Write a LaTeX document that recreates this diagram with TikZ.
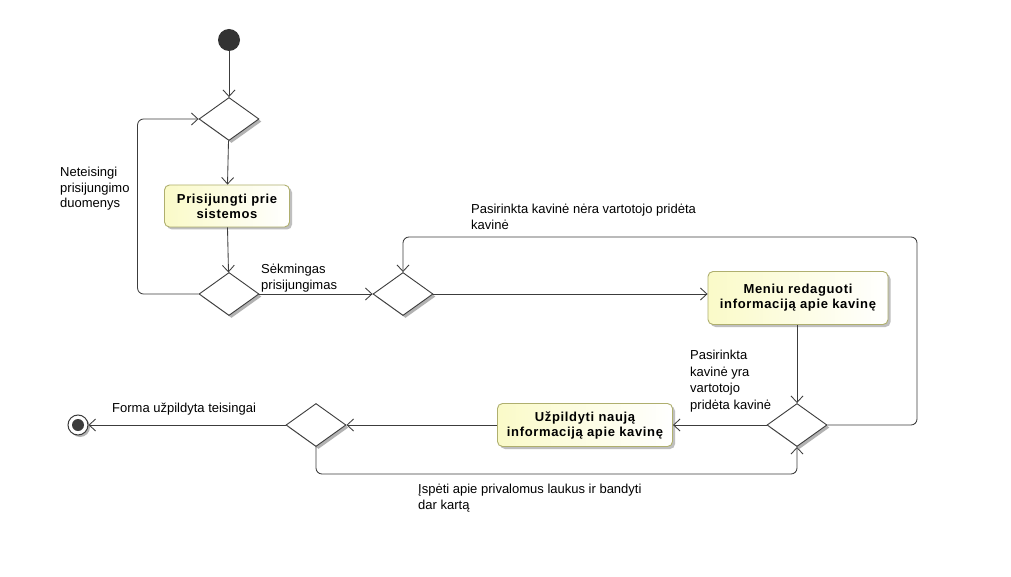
\documentclass[tikz,border=0pt]{standalone}
\usepackage{fontspec}
\setmainfont{Liberation Sans}
\newfontfamily\actfont{Liberation Sans}[LetterSpace=5]
\usetikzlibrary{shapes.geometric,arrows.meta,shadows}
\definecolor{lc}{RGB}{60,60,60}
\definecolor{actborder}{RGB}{175,175,110}
\definecolor{actfill}{RGB}{250,250,200}
\begin{document}
\begin{tikzpicture}[x=1pt,y=-1pt,
  line/.style={draw=lc, line width=0.85pt},
  arr/.style={line, -{Straight Barb[length=6.5pt,width=12pt,line width=0.85pt]}},
  dec/.style={diamond, draw=lc, line width=0.9pt, fill=white, minimum width=60pt, minimum height=43pt, inner sep=0pt,
     drop shadow={shadow xshift=2.5pt, shadow yshift=-2.5pt, fill=black!30, opacity=1}},
  act/.style={rectangle, rounded corners=5pt, draw=actborder, line width=0.9pt, left color=actfill, right color=white,
     align=center, font=\actfont\bfseries\fontsize{13}{15}\selectfont, inner sep=2pt,
     drop shadow={shadow xshift=2.5pt, shadow yshift=-2.5pt, fill=black!25, opacity=1}},
  lbl/.style={anchor=north west, align=left, inner sep=0pt, font=\fontsize{13}{15.5}\selectfont}
]
\useasboundingbox[fill=white] (0,0) rectangle (1011,577);
% nodes
\node[circle, fill=black!80, minimum size=22pt, inner sep=0pt] (start) at (229,40) {};
\node[dec] (d1) at (229,119) {};
\node[act, minimum width=125pt, minimum height=42pt] (a1) at (227,206) {Prisijungti prie\\sistemos};
\node[dec] (d2) at (229,294) {};
\node[dec] (d3) at (403,294) {};
\node[act, minimum width=180pt, minimum height=53pt] (a2) at (798,298) {Meniu redaguoti\\informaciją apie kavinę};
\node[dec] (d4) at (797,425) {};
\node[act, minimum width=175pt, minimum height=43pt] (a3) at (585,425) {Užpildyti naują\\informaciją apie kavinę};
\node[dec] (d5) at (316,425) {};
\node[circle, draw=lc, line width=1pt, fill=white, minimum size=20pt, inner sep=0pt,
  drop shadow={shadow xshift=2pt, shadow yshift=-2pt, fill=black!30, opacity=1}] (end) at (78,425) {};
\fill[lc] (end.center) circle (6pt);
\coordinate (rt) at (917,237);
\coordinate (bt) at (560,474);
% connectors
\draw[arr] (start) -- (d1);
\draw[arr] (d1) -- (a1);
\draw[arr] (a1) -- (d2);
\draw[arr, rounded corners=6pt] (d2.west) -- ++(-61,0) |- (d1.west);
\draw[arr] (d2.east) -- (d3.west);
\draw[arr] (d3.east) -- (d3.east -| a2.west);
\draw[arr] (d4.north |- a2.south) -- (d4.north);
\draw[arr, rounded corners=6pt] (d4.east) -| (rt) -| (d3.north);
\draw[arr] (d4.west) -- (a3.east);
\draw[arr] (a3.west) -- (d5.east);
\draw[arr] (d5.west) -- (end.east);
\draw[arr, rounded corners=6pt] (d5.south) |- (bt) -| (d4.south);
% labels
\node[lbl] (l1) at (60,167) {Neteisingi\\prisijungimo\\duomenys};
\node[lbl] (l2) at (261,264) {Sėkmingas\\prisijungimas};
\node[lbl] (l3) at (471,204) {Pasirinkta kavinė nėra vartotojo pridėta\\kavinė};
\node[lbl, font=\fontsize{13}{16.5}\selectfont] (l4) at (690,350) {Pasirinkta\\kavinė yra\\vartotojo\\pridėta kavinė};
\node[lbl] (l5) at (112,403) {Forma užpildyta teisingai};
\node[lbl] (l6) at (418,484) {Įspėti apie privalomus laukus ir bandyti\\dar kartą};
\end{tikzpicture}
\end{document}
